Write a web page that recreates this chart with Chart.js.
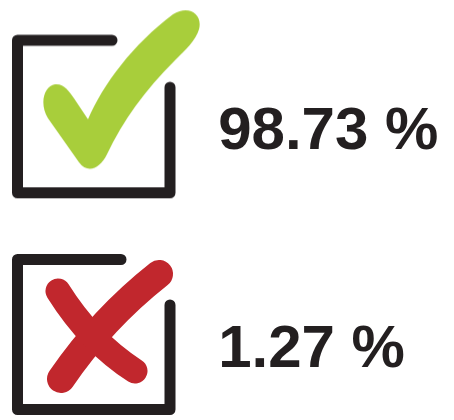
<!DOCTYPE html>
<html>
<head>
<meta charset="utf-8">
<script src="https://cdn.jsdelivr.net/npm/chart.js@4/dist/chart.umd.min.js"></script>
<style>
  html, body { margin: 0; padding: 0; background: #fff; }
  #wrap { width: 454px; height: 420px; }
</style>
</head>
<body>
<div id="wrap"><canvas id="root" width="454" height="420"></canvas></div>
<script>
// answers: right vs wrong share
const categories = ['correct', 'incorrect'];
const shares = [98.73, 1.27];
const shareLabels = shares.map(v => v.toFixed(2) + ' %');

const ink = '#231f20';

// icon sprites (box + mark), used as point styles
function makeIcon(kind) {
    const c = document.createElement('canvas');
    c.width = 220;
    c.height = 220;
    const g = c.getContext('2d');
    g.lineCap = 'round';
    g.lineJoin = 'round';

    if (kind === 'check') {
        g.translate(20, -4);
        g.strokeStyle = ink;
        g.lineWidth = 11;
        g.beginPath();
        g.moveTo(109, 38);
        g.lineTo(14.5, 38);
        g.lineTo(14.5, 190.5);
        g.lineTo(167, 190.5);
        g.lineTo(167, 85);
        g.stroke();

        g.fillStyle = '#a8ce3b';
        g.beginPath();
        g.moveTo(85, 117);
        g.bezierCurveTo(100, 82, 130, 42, 170, 12);
        g.bezierCurveTo(186, 2, 200, 12, 196, 27);
        g.bezierCurveTo(193, 38, 182, 48, 172, 58);
        g.bezierCurveTo(142, 88, 120, 118, 104, 152);
        g.bezierCurveTo(97, 166, 85, 172, 76, 160);
        g.lineTo(45, 116);
        g.bezierCurveTo(36, 101, 41, 84, 52, 82);
        g.bezierCurveTo(61, 81, 66, 89, 71, 96);
        g.closePath();
        g.fill();
    } else {
        g.translate(19, -227);
        g.strokeStyle = ink;
        g.lineWidth = 11;
        g.beginPath();
        g.moveTo(119, 262.5);
        g.lineTo(15.5, 262.5);
        g.lineTo(15.5, 412.5);
        g.lineTo(168, 412.5);
        g.lineTo(168, 308);
        g.stroke();

        g.strokeStyle = '#c1272d';
        g.lineWidth = 28;
        g.beginPath();
        g.moveTo(157, 277);
        g.quadraticCurveTo(100, 322, 59, 382);
        g.stroke();

        g.lineWidth = 25;
        g.beginPath();
        g.moveTo(56, 294);
        g.quadraticCurveTo(88, 345, 133, 374);
        g.stroke();
    }
    return c;
}

const icons = [makeIcon('check'), makeIcon('cross')];

const shareText = {
    id: 'shareText',
    afterDatasetsDraw(chart) {
        const ctx = chart.ctx;
        const xs = chart.scales.x;
        const ys = chart.scales.y;
        ctx.save();
        ctx.fillStyle = ink;
        ctx.font = 'bold 60px "Liberation Sans", Arial, sans-serif';
        ctx.textAlign = 'left';
        ctx.textBaseline = 'alphabetic';
        shareLabels.forEach((t, i) => {
            ctx.fillText(t, xs.getPixelForValue(1), ys.getPixelForValue(i) + 33);
        });
        ctx.restore();
    }
};

let ctx = document.getElementById('root').getContext('2d');

let config = {
    type: 'scatter',
    data: {
        labels: categories,
        datasets: [
            {
                label: 'share',
                data: categories.map((c, i) => ({ x: 0, y: i })),
                pointStyle: icons,
                clip: false
            }
        ]
    },
    options: {
        responsive: false,
        animation: false,
        layout: { padding: 0 },
        plugins: {
            legend: { display: false },
            tooltip: { enabled: false }
        },
        scales: {
            x: { type: 'linear', display: false, min: -0.703, max: 2.844 },
            y: { type: 'linear', display: false, reverse: true, min: -0.511, max: 1.372 }
        }
    },
    plugins: [shareText]
};

let myChart = new Chart(ctx, config);
</script>
</body>
</html>
